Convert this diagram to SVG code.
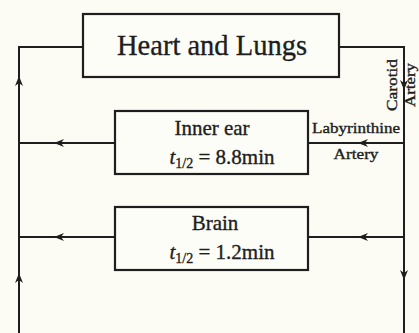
<svg xmlns="http://www.w3.org/2000/svg" width="419" height="333" viewBox="0 0 419 333">
<style>
.bg{fill:#fcfcf4}
.box{fill:#fdfdf7;stroke:#1e1e1e;stroke-width:2.2}
.ln{fill:none;stroke:#1e1e1e;stroke-width:2}
.ah{fill:#1e1e1e}
text{font-family:"Liberation Serif","DejaVu Serif",serif;fill:#1e1e1e;stroke:#1e1e1e;stroke-width:0.35}
.big{font-size:30px}
.mid{font-size:21px}
.sm{font-size:14px}
.lab{font-size:14px}
</style>
<defs>
<path id="ah" class="ah" d="M0,0 L-10,-4 L-7,0 L-10,4 Z"/>
</defs>
<rect class="bg" x="0" y="0" width="419" height="333"/>
<g id="connectors">
<polyline class="ln" points="83,47 19,47 19,333"/>
<polyline class="ln" points="339,47 404,47 404,333"/>
<line class="ln" x1="115" y1="143" x2="19" y2="143"/>
<line class="ln" x1="404" y1="143" x2="308" y2="143"/>
<line class="ln" x1="115" y1="237" x2="19" y2="237"/>
<line class="ln" x1="404" y1="237" x2="308" y2="237"/>
<use href="#ah" transform="translate(19,76) rotate(-90)"/>
<use href="#ah" transform="translate(19,273) rotate(-90)"/>
<use href="#ah" transform="translate(404,90) rotate(90)"/>
<use href="#ah" transform="translate(404,280) rotate(90)"/>
<use href="#ah" transform="translate(54,143) rotate(180)"/>
<use href="#ah" transform="translate(358,143) rotate(180)"/>
<use href="#ah" transform="translate(54,237) rotate(180)"/>
<use href="#ah" transform="translate(358,237) rotate(180)"/>
<text class="lab" transform="translate(397,85) rotate(-90)" text-anchor="middle" textLength="52" lengthAdjust="spacingAndGlyphs">Carotid</text>
<text class="lab" font-size="13" transform="translate(415,85) rotate(-90)" text-anchor="middle" textLength="44" lengthAdjust="spacingAndGlyphs">Artery</text>
<text class="lab" x="356" y="133" text-anchor="middle" textLength="88" lengthAdjust="spacingAndGlyphs">Labyrinthine</text>
<text class="lab" x="356" y="159" text-anchor="middle" textLength="45" lengthAdjust="spacingAndGlyphs">Artery</text>
</g>
<g id="heart-lungs">
<rect class="box" x="83" y="14" width="256" height="63"/>
<text class="big" x="212" y="55" text-anchor="middle" textLength="190" lengthAdjust="spacingAndGlyphs">Heart and Lungs</text>
</g>
<g id="inner-ear">
<rect class="box" x="115" y="111" width="193" height="63"/>
<text class="mid" x="212" y="135" text-anchor="middle">Inner ear</text>
<text class="mid" x="222" y="164" text-anchor="middle"><tspan font-style="italic">t</tspan><tspan class="sm" dy="4">1/2</tspan><tspan dy="-4"> = 8.8min</tspan></text>
</g>
<g id="brain">
<rect class="box" x="115" y="207" width="193" height="63"/>
<text class="mid" x="215" y="230" text-anchor="middle">Brain</text>
<text class="mid" x="222" y="259" text-anchor="middle"><tspan font-style="italic">t</tspan><tspan class="sm" dy="4">1/2</tspan><tspan dy="-4"> = 1.2min</tspan></text>
</g>
</svg>
